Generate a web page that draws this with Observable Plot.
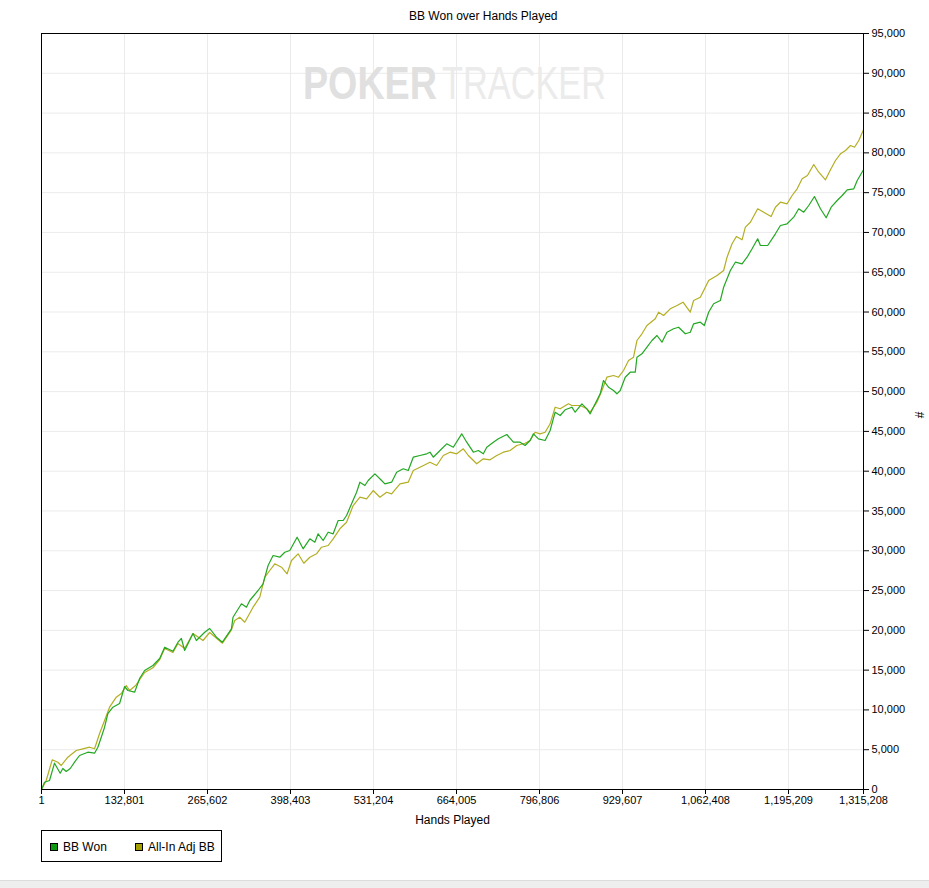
<!DOCTYPE html>
<html>
<head>
<meta charset="utf-8">
<script src="https://cdn.jsdelivr.net/npm/d3@7"></script>
<script src="https://cdn.jsdelivr.net/npm/@observablehq/plot@0.6"></script>
<style>
html,body{margin:0;padding:0;background:#eeeeee;}
#wrap{position:relative;width:929px;height:880px;background:#fff;font-family:"Liberation Sans",Arial,sans-serif;border-bottom:1px solid #dcdcdc;}
#title{position:absolute;left:409px;top:9px;font-size:12px;color:#000;white-space:nowrap;}
#chart{position:absolute;left:0;top:0;}
#legend{position:absolute;left:41px;top:830px;width:181px;height:32px;border:1px solid #000;box-sizing:border-box;font-size:12px;}
.item{position:absolute;top:9px;white-space:nowrap;}
.sw{display:inline-block;width:6px;height:6px;border:1px solid #000;vertical-align:middle;margin-right:5px;position:relative;top:-1px;}
</style>
</head>
<body>
<div id="wrap">
  <div id="title"></div>
  <div id="chart"></div>
  <div id="legend"></div>
</div>
<script>
const chartTitle = "BB Won over Hands Played";
const xLabel = "Hands Played";
const yLabel = "#";
const watermark = ["POKER", "TRACKER"];
const seriesNames = ["BB Won", "All-In Adj BB"];
const xTicks = [1, 132801, 265602, 398403, 531204, 664005, 796806, 929607, 1062408, 1195209, 1315208];
const yTicks = [0,5000,10000,15000,20000,25000,30000,35000,40000,45000,50000,55000,60000,65000,70000,75000,80000,85000,90000,95000];

// [hands played, BB]
const bbWon = [[1,0],[4806,917],[12816,1131],[20826,3305],[29957,2048],[34123,2639],[39569,2262],[45977,2639],[52866,3431],[60876,4272],[74173,4687],[84906,4561],[90193,5315],[95639,6572],[100926,7829],[106213,9550],[114223,10342],[124956,10807],[132966,12943],[138253,12440],[148967,12227],[156996,13948],[165006,14954],[178303,15582],[189114,16461],[197124,17881],[210343,17379],[218353,18510],[223799,18975],[229086,17467],[242382,19603],[247829,18723],[261126,19766],[269136,20231],[279869,19138],[289481,18510],[303900,20194],[306463,21651],[319919,23335],[327929,22908],[333216,23750],[346513,25006],[354523,25848],[362533,28148],[370543,29404],[381276,29191],[389286,29819],[397296,30033],[408991,31704],[418603,30246],[429336,31503],[437346,31076],[442633,32131],[450643,31289],[458653,32333],[466663,32131],[474673,33803],[482683,33803],[488129,34431],[496139,35901],[504149,37359],[509436,38615],[517446,38201],[522733,38829],[533466,39671],[544199,38829],[549486,38414],[560219,38615],[568229,39872],[578802,40299],[586812,40086],[594822,41757],[605556,41971],[616289,42184],[621576,42386],[626862,41757],[637596,42599],[648329,43441],[658902,43014],[672359,44697],[680369,43642],[690942,42386],[698952,42599],[706962,42184],[712409,43014],[722982,43642],[730992,44069],[744449,44609],[755022,43642],[765756,43642],[773766,43227],[781776,43855],[787062,44697],[795073,44069],[805806,43855],[813816,45112],[821826,47411],[829836,46997],[837846,47713],[848579,48040],[853866,47411],[864599,48467],[872609,47839],[877896,47211],[885906,48467],[893916,49724],[899202,51395],[907212,50553],[915222,50139],[920669,49724],[925956,50139],[933966,51810],[941976,52438],[949986,52438],[952709,54323],[960719,54751],[968729,55580],[976739,56421],[984749,57050],[992759,56208],[1000769,57465],[1011342,57892],[1019352,58093],[1030086,57264],[1038096,57465],[1043382,58520],[1054116,58721],[1060524,58306],[1067413,59978],[1075423,61033],[1086156,61448],[1091443,63120],[1102176,65218],[1110186,66261],[1120919,66060],[1128929,66890],[1136939,67945],[1145910,69202],[1150236,68360],[1161930,68360],[1174266,69830],[1182276,70873],[1193009,71087],[1203583,71916],[1211593,72972],[1219603,72545],[1227613,73385],[1236744,74516],[1246356,72972],[1255487,71841],[1263497,73172],[1273109,74015],[1281119,74642],[1289129,75359],[1299702,75484],[1305148,76527],[1315208,77872]];

const allInAdj = [[1,0],[7529,1131],[17141,3732],[26113,3431],[31559,3016],[42133,4059],[55589,4901],[66163,5114],[76896,5315],[84906,5114],[92916,7037],[100926,8671],[108936,10342],[119669,11598],[127679,12063],[135689,13068],[140976,12440],[150588,13068],[165006,14702],[178303,15293],[189114,16336],[197124,17718],[210343,17215],[218353,18346],[229086,17718],[242382,19603],[258402,18723],[269136,19729],[289481,18384],[303900,20068],[309186,21237],[317196,21651],[325206,21023],[338503,22908],[349236,24165],[357246,26678],[365256,27520],[373266,28362],[384000,27934],[392970,27105],[400020,28776],[410593,29618],[419725,28437],[429336,29191],[440069,29618],[448079,30447],[458653,30661],[466663,31503],[477396,32760],[488129,33589],[498702,35687],[509436,36730],[520169,36529],[530742,37572],[541476,36730],[552209,37359],[560219,37157],[573516,38414],[586812,38615],[594822,40086],[605556,40500],[621576,41129],[632309,40714],[642882,41971],[653616,42386],[664349,42184],[674922,42812],[682932,41971],[696389,40928],[706962,41556],[717695,41430],[728429,41971],[739002,42386],[749736,42599],[760469,43227],[773766,43516],[781776,43855],[789786,44898],[797796,44697],[805806,44898],[813816,45954],[821826,48040],[829836,47839],[843132,48467],[848579,48254],[861876,48254],[872609,47839],[877896,47411],[888629,48668],[896639,50139],[904649,51810],[915222,52023],[923232,51810],[931242,52652],[939252,53909],[947262,54323],[952709,56421],[960719,57264],[968729,58306],[982026,59148],[987313,59978],[995323,59563],[1006056,60405],[1016789,60820],[1026401,61235],[1038096,59978],[1043382,61448],[1054116,61863],[1062126,63120],[1067413,63962],[1080870,64591],[1091443,65218],[1096890,66890],[1104900,68574],[1111788,69491],[1120919,69076],[1126206,70660],[1134216,71287],[1145910,72972],[1155522,72545],[1167377,72003],[1174266,73172],[1182276,73800],[1193009,73599],[1201019,74642],[1209029,75484],[1217039,76741],[1225530,77155],[1235622,78538],[1243632,77570],[1254366,76615],[1262376,77872],[1270386,79040],[1278396,79882],[1286406,80297],[1294416,80925],[1300824,80711],[1307712,81553],[1315208,82898]];

const lineColors = ["#22a822", "#b3ae22"];
const swatchColors = ["#0e9a0e", "#a3a000"];

document.getElementById("title").textContent = chartTitle;

const fmt = d3.format(",");
const plot = Plot.plot({
  width: 929,
  height: 880,
  marginTop: 33,
  marginLeft: 41,
  marginRight: 66,
  marginBottom: 91,
  style: {fontFamily: "'Liberation Sans', Arial, sans-serif", fontSize: "11px", background: "transparent", color: "#000"},
  x: {domain: [1, 1315208]},
  y: {domain: [0, 95000]},
  marks: [
    Plot.gridX(xTicks, {stroke: "#ebebeb", strokeOpacity: 1}),
    Plot.gridY(yTicks, {stroke: "#ebebeb", strokeOpacity: 1}),
    Plot.line(allInAdj, {x: d => d[0], y: d => d[1], stroke: lineColors[1], strokeWidth: 1.2}),
    Plot.line(bbWon, {x: d => d[0], y: d => d[1], stroke: lineColors[0], strokeWidth: 1.2}),
    Plot.frame({stroke: "#000", strokeWidth: 1}),
    Plot.axisX(xTicks, {tickFormat: fmt, tickSize: 5, tickPadding: 2, label: null}),
    Plot.axisY(yTicks, {anchor: "right", tickFormat: fmt, tickSize: 5, tickPadding: 3, label: null}),
    Plot.text([xLabel], {frameAnchor: "bottom", dy: 34, text: d => d, fontSize: 12}),
    Plot.text([yLabel], {frameAnchor: "right", dx: 57, text: d => d, fontSize: 12, rotate: -90})
  ]
});
document.getElementById("chart").appendChild(plot);

// faint logo watermark behind the lines
const svg = d3.select(plot);
const wmG = svg.insert("g", "g[aria-label='line']").attr("aria-label", "watermark").attr("text-anchor", "start");
const wmSpec = [
  {text: watermark[0], x: 303, w: 134, weight: "bold", fill: "#e0e0e0"},
  {text: watermark[1], x: 442, w: 164, weight: "normal", fill: "#ebebeb"}
];
wmSpec.forEach(s => {
  const t = wmG.append("text")
    .attr("text-anchor", "start")
    .attr("font-size", 46).attr("font-weight", s.weight).attr("fill", s.fill)
    .attr("font-family", "'Liberation Sans', Arial, sans-serif")
    .text(s.text);
  const natural = t.node().getComputedTextLength() || 1;
  t.attr("transform", `translate(${s.x},99) scale(${s.w / natural},1)`);
});

const legend = d3.select("#legend");
const legendX = [8, 93];
seriesNames.forEach((name, i) => {
  const it = legend.append("div").attr("class", "item").style("left", legendX[i] + "px");
  it.append("span").attr("class", "sw").style("background", swatchColors[i]);
  it.append("span").text(name);
});
</script>
</body>
</html>
